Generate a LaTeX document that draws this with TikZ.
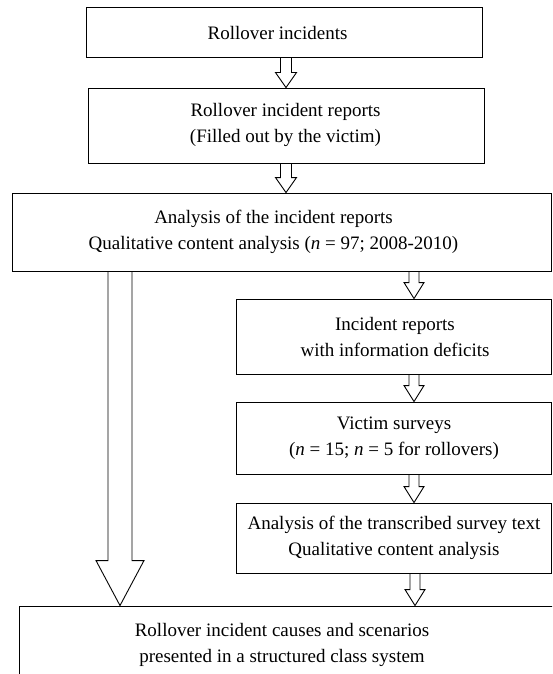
\documentclass[tikz,border=0pt]{standalone}
\usepackage{fontspec}
\setmainfont{Liberation Serif}
\usetikzlibrary{calc}
\tikzset{
  boxnode/.style={draw=black, line width=0.9pt, rectangle, inner sep=0pt},
  txtnode/.style={align=center, inner sep=0pt, font=\fontsize{19}{26}\selectfont},
  arrline/.style={draw=black, line width=0.9pt, line join=miter}
}
\newcommand\blockarr[6]{%
  \draw[arrline] let \p1=(#1.south), \p2=(#2.north) in
    ({#3pt-#4pt},\y1) -- ({#3pt-#4pt},{\y2+#6pt}) -- ({#3pt-#5pt},{\y2+#6pt})
    -- (#3pt,\y2) -- ({#3pt+#5pt},{\y2+#6pt}) -- ({#3pt+#4pt},{\y2+#6pt})
    -- ({#3pt+#4pt},\y1);}
\begin{document}
\begin{tikzpicture}[x=1pt,y=-1pt]
\path[use as bounding box, clip] (0,0) rectangle (552,674);
\fill[white] (0,0) rectangle (552,674);
% boxes
\node[boxnode, minimum width=396pt, minimum height=49.5pt] (b1) at (284,32.25) {};
\node[boxnode, minimum width=396pt, minimum height=75pt] (b2) at (286,125.5) {};
\node[boxnode, minimum width=539pt, minimum height=78pt] (b3) at (282,232) {};
\node[boxnode, minimum width=315.5pt, minimum height=75pt] (b4) at (393.75,336.5) {};
\node[boxnode, minimum width=315.5pt, minimum height=72pt] (b5) at (393.75,438) {};
\node[boxnode, minimum width=315.5pt, minimum height=70pt] (b6) at (393.75,538) {};
\node[boxnode, minimum width=560pt, minimum height=100pt] (bf) at (299,656) {};
% texts
\node[txtnode] (t1) at (277.5,33) {Rollover incidents};
\node[txtnode] (t2) at (285.5,125) {Rollover incident reports\\(Filled out by the victim)};
\node[txtnode] (t3) at (273.5,231.5) {Analysis of the incident reports\\Qualitative content analysis (\textit{n} = 97; 2008-2010)};
\node[txtnode] (t4) at (395,336.5) {Incident reports\\with information deficits};
\node[txtnode] (t5) at (394,438) {Victim surveys\\(\textit{n} = 15; \textit{n} = 5 for rollovers)};
\node[txtnode] (t6) at (394,538) {Analysis of the transcribed survey text\\Qualitative content analysis};
\node[txtnode] (tf) at (282,644.5) {Rollover incident causes and scenarios\\presented in a structured class system};
% arrows
\blockarr{b1}{b2}{286}{5.5}{10.5}{15}
\blockarr{b2}{b3}{286}{5.5}{10.5}{15}
\blockarr{b3}{b4}{414}{5}{10}{16}
\blockarr{b4}{b5}{414}{5}{10}{16}
\blockarr{b5}{b6}{414}{5}{10}{16}
\blockarr{b6}{bf}{415}{5}{10}{16}
\blockarr{b3}{bf}{120}{12}{24}{45}
\end{tikzpicture}
\end{document}
